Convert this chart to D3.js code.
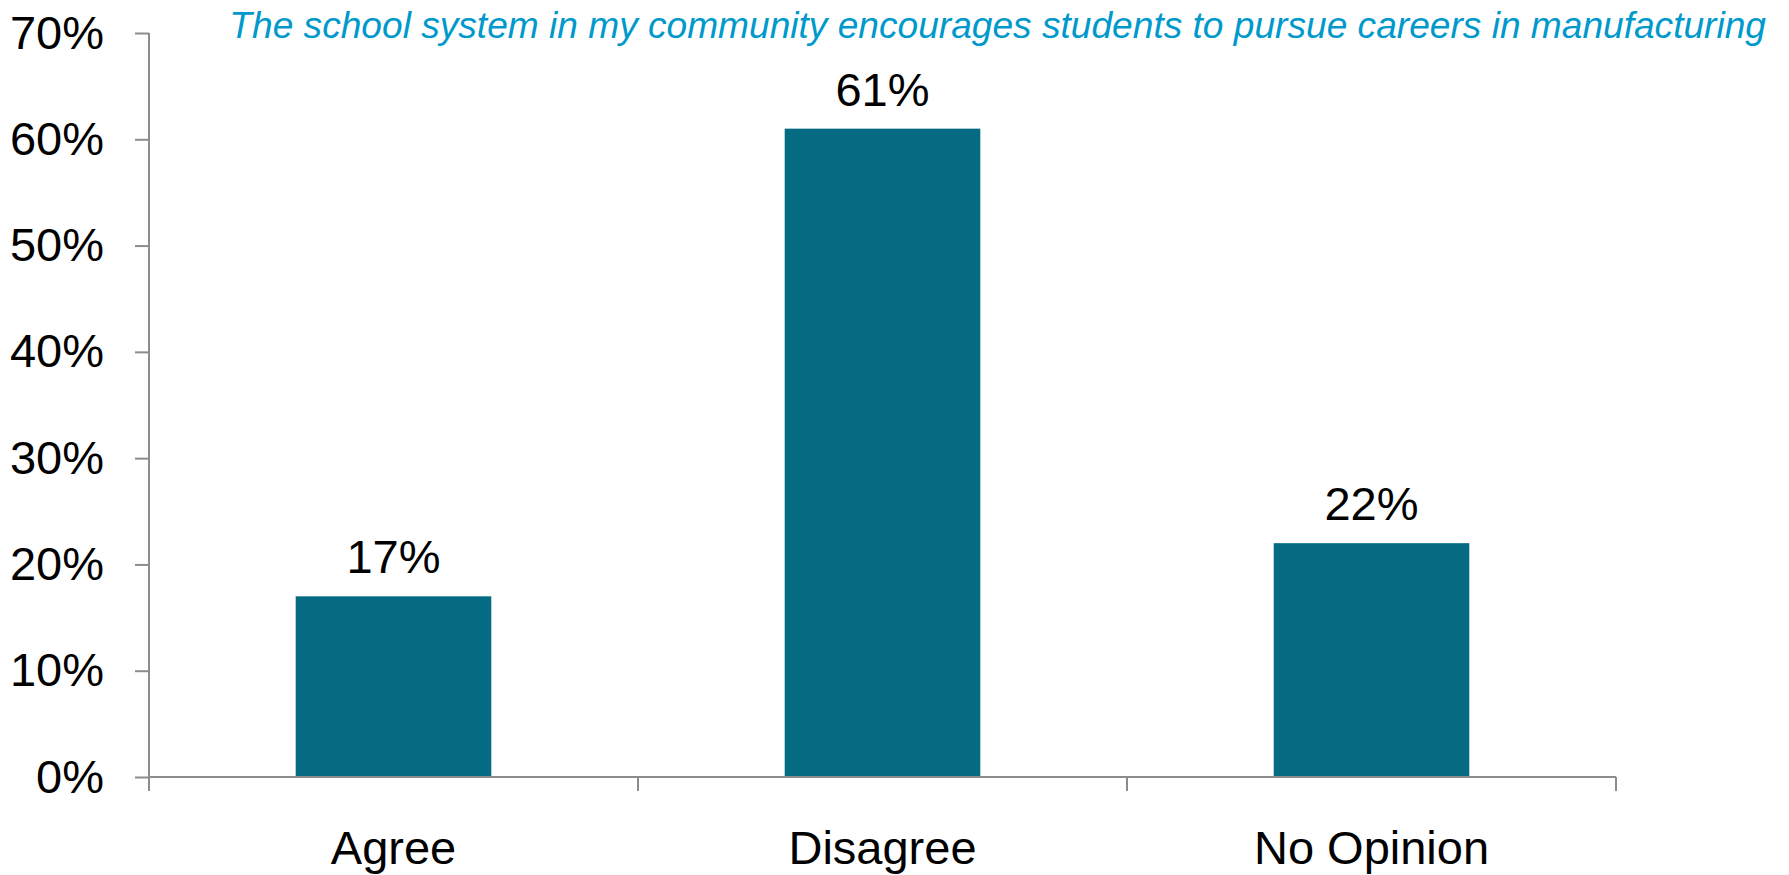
<!DOCTYPE html>
<html>
<head>
<meta charset="utf-8">
<script src="https://cdn.jsdelivr.net/npm/d3@7"></script>
<style>
  html, body { margin: 0; padding: 0; background: #ffffff; }
  svg { display: block; }
  text { font-family: "Liberation Sans", Arial, sans-serif; }
</style>
</head>
<body>
<svg id="chart" width="1789" height="875"></svg>
<script>
const categories = ["Agree", "Disagree", "No Opinion"];
const values = [17, 61, 22];
const yTicks = [0, 10, 20, 30, 40, 50, 60, 70];
const titleText = "The school system in my community encourages students to pursue careers in manufacturing";

(function () {
const svg = d3.select("#chart");
const plotLeft = 149, plotRight = 1616, plotTop = 33, plotBottom = 777;
const axisColor = "#8c8c8c";
const barColor = "#046b82";
const fs = 47;

const x = d3.scaleBand().domain(categories).range([plotLeft, plotRight]).padding(0);
const y = d3.scaleLinear().domain([0, 70]).range([plotBottom, plotTop]);
const barW = x.bandwidth() * 0.4;

// bars
svg.append("g").selectAll("rect").data(values).join("rect")
  .attr("x", (d, i) => x(categories[i]) + x.bandwidth() / 2 - barW / 2)
  .attr("y", d => y(d))
  .attr("width", barW)
  .attr("height", d => plotBottom - y(d))
  .attr("fill", barColor);

// y axis
const yAxis = d3.axisLeft(y).tickValues(yTicks).tickFormat(d => d + "%").tickSize(14).tickPadding(31);
const gy = svg.append("g").attr("transform", `translate(${plotLeft},0)`).call(yAxis);
gy.select(".domain").attr("d", `M0,${plotTop}V${plotBottom}`).attr("stroke", axisColor).attr("stroke-width", 2);
gy.selectAll(".tick line").attr("stroke", axisColor).attr("stroke-width", 2);
gy.selectAll(".tick text").attr("font-size", fs).attr("fill", "#000")
  .attr("font-family", "'Liberation Sans', Arial, sans-serif");

// x axis
const xAxis = d3.axisBottom(x).tickSize(0).tickPadding(0);
const gx = svg.append("g").attr("transform", `translate(0,${plotBottom})`).call(xAxis);
gx.select(".domain").attr("d", `M${plotLeft},0H${plotRight}`).attr("stroke", axisColor).attr("stroke-width", 2);
gx.selectAll(".tick line").remove();
gx.selectAll(".tick text").attr("font-size", fs).attr("fill", "#000")
  .attr("font-family", "'Liberation Sans', Arial, sans-serif")
  .attr("dy", null).attr("y", 87);
// category boundary ticks
const bounds = categories.map(c => x(c)).concat([plotRight]);
gx.selectAll("line.bound").data(bounds).join("line").attr("class", "bound")
  .attr("x1", d => d).attr("x2", d => d).attr("y1", 0).attr("y2", 14)
  .attr("stroke", axisColor).attr("stroke-width", 2);

// value labels
svg.append("g").selectAll("text").data(values).join("text")
  .attr("x", (d, i) => x(categories[i]) + x.bandwidth() / 2)
  .attr("y", d => y(d) - 23)
  .attr("text-anchor", "middle")
  .attr("font-size", fs)
  .attr("fill", "#000")
  .text(d => d + "%");

// title
const title = svg.append("text")
  .attr("x", 1766).attr("y", 38)
  .attr("text-anchor", "end")
  .attr("font-size", 36)
  .attr("font-style", "italic")
  .attr("fill", "#0099cc")
  .text(titleText);
const tw = title.node().getComputedTextLength();
const target = 1766 - 229;
title.attr("font-size", 36 * target / tw);
})();
</script>
</body>
</html>
